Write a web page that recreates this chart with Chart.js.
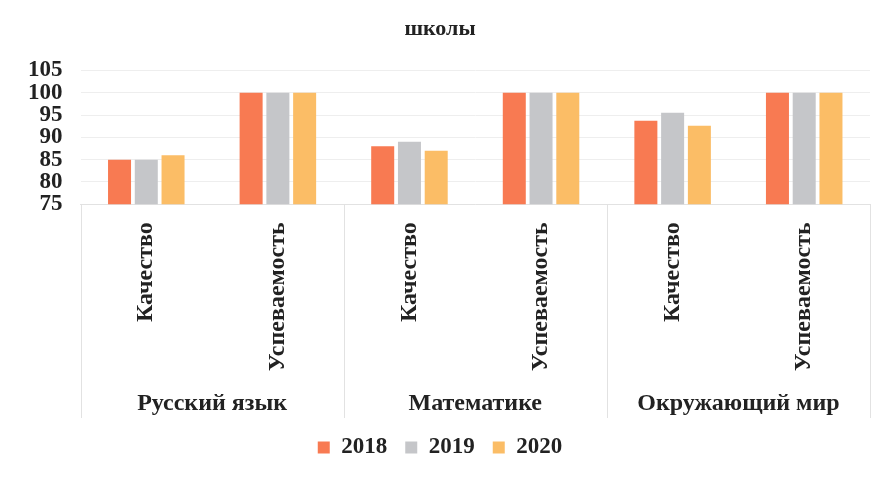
<!DOCTYPE html>
<html lang="ru">
<head>
  <meta charset="UTF-8" />
  <title>Качество и успеваемость</title>
  <script src="https://cdn.jsdelivr.net/npm/chart.js"></script>
  <style>
    body { margin: 0; background: #fff; }
    canvas { display: block; }
  </style>
</head>
<body>
  <canvas id="gradeChart" width="890" height="479"></canvas>

  <script>
    // данные с диаграммы
    const categories = ['Качество', 'Успеваемость', 'Качество', 'Успеваемость', 'Качество', 'Успеваемость'];
    const subjects = ['Русский язык', 'Математике', 'Окружающий мир'];
    const years = ['2018', '2019', '2020'];
    const values2018 = [85, 100, 88, 100, 93.7, 100];
    const values2019 = [85, 100, 89, 100, 95.5, 100];
    const values2020 = [86, 100, 87, 100, 92.6, 100];
    const yTicks = [75, 80, 85, 90, 95, 100, 105];

    const colors = ['#F87A52', '#C5C6C9', '#FBBD66'];
    const serif = "'Liberation Serif', 'Times New Roman', serif";

    // вертикальные разделители между предметами под осью
    const groupLines = {
      id: 'groupLines',
      afterDraw(chart) {
        const x2 = chart.scales.x2;
        const area = chart.chartArea;
        const w = (x2.right - x2.left) / subjects.length;
        const ctx = chart.ctx;
        ctx.save();
        ctx.strokeStyle = '#e2e2e2';
        ctx.lineWidth = 1;
        for (let i = 0; i <= subjects.length; i++) {
          const px = Math.round(x2.left + w * i) + 0.5;
          ctx.beginPath();
          ctx.moveTo(px, area.bottom);
          ctx.lineTo(px, x2.bottom);
          ctx.stroke();
        }
        ctx.restore();
      }
    };

    const data = {
      labels: categories,
      datasets: [
        { label: years[0], data: values2018, backgroundColor: colors[0] },
        { label: years[1], data: values2019, backgroundColor: colors[1] },
        { label: years[2], data: values2020, backgroundColor: colors[2] }
      ]
    };

    new Chart(document.getElementById('gradeChart'), {
      type: 'bar',
      data: data,
      options: {
        responsive: false,
        animation: false,
        categoryPercentage: 0.61,
        barPercentage: 0.86,
        layout: { padding: { left: 10, right: 20, top: 12, bottom: 10 } },
        plugins: {
          title: {
            display: true,
            text: 'школы',
            color: '#222',
            font: { family: serif, size: 22, weight: 'bold' },
            padding: { top: 4, bottom: 28 }
          },
          legend: {
            position: 'bottom',
            labels: {
              color: '#222',
              boxWidth: 12,
              boxHeight: 12,
              padding: 18,
              font: { family: serif, size: 23, weight: 'bold' }
            }
          },
          tooltip: { enabled: false }
        },
        scales: {
          y: {
            min: 75,
            max: 105,
            afterBuildTicks: axis => { axis.ticks = yTicks.map(v => ({ value: v })); },
            grid: { color: '#eeeeee', drawTicks: false },
            border: { display: false },
            ticks: {
              color: '#222',
              padding: 18,
              autoSkip: false,
              font: { family: serif, size: 23, weight: 'bold' }
            }
          },
          x: {
            grid: { display: false, drawTicks: false },
            border: { display: true, color: '#e2e2e2' },
            ticks: {
              color: '#222',
              minRotation: 90,
              maxRotation: 90,
              autoSkip: false,
              padding: 18,
              font: { family: serif, size: 24, weight: 'bold' }
            }
          },
          x2: {
            type: 'category',
            labels: subjects,
            position: 'bottom',
            offset: true,
            grid: { display: false, drawTicks: false },
            border: { display: false },
            ticks: {
              color: '#222',
              padding: 0,
              font: { family: serif, size: 24, weight: 'bold' }
            }
          }
        }
      },
      plugins: [groupLines]
    });
  </script>
</body>
</html>
